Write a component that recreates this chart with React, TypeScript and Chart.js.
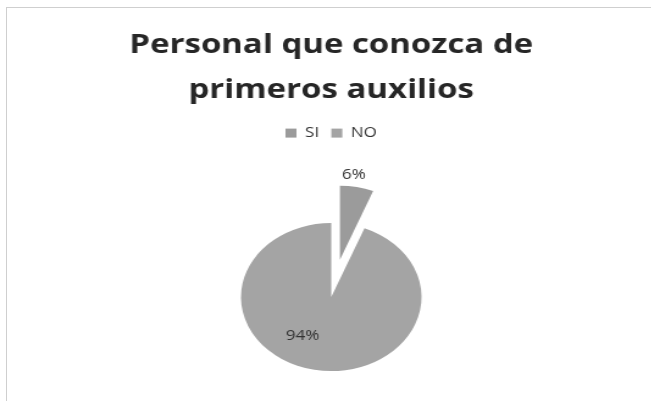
import React, { useEffect, useRef } from "react";
import { Chart, registerables } from "chart.js";

Chart.register(...registerables);

const TITLE_LINES = ["Personal que conozca de", "primeros auxilios"];
const CATEGORIES = ["SI", "NO"];
const PERCENTAGES = [6, 94];
const SLICE_COLORS = ["#9b9b9b", "#a4a4a4"];

// the scanned reference is stretched horizontally
const STRETCH_X = 1.22;
const CANVAS_W = 534;
const CANVAS_H = 444;
const EXPLODE = 38;
const EXPLODED_INDEX = 0;
const INSIDE_LABEL_ROTATE = (20 * Math.PI) / 180;

export default function App() {
  const ref = useRef<HTMLCanvasElement>(null);

  useEffect(() => {
    document.body.style.margin = "0";
    const canvas = ref.current;
    if (!canvas) return;

    const piePlugin = {
      id: "pieStyle",
      beforeDatasetsDraw(chart: any) {
        const { left, right, top, bottom } = chart.chartArea;
        const cx = (left + right) / 2;
        const cy = (top + bottom) / 2;
        const meta = chart.getDatasetMeta(0);
        meta.data.forEach((el: any, i: number) => {
          el.x = cx;
          el.y = cy;
          if (i === EXPLODED_INDEX) {
            const mid = (el.startAngle + el.endAngle) / 2;
            el.x = cx + Math.cos(mid) * EXPLODE;
            el.y = cy + Math.sin(mid) * EXPLODE;
          }
        });
      },
      afterDatasetsDraw(chart: any) {
        const ctx = chart.ctx;
        const meta = chart.getDatasetMeta(0);
        const values = chart.data.datasets[0].data as number[];
        ctx.save();
        ctx.fillStyle = "#333333";
        ctx.font = "14px 'Open Sans'";
        ctx.textAlign = "center";
        ctx.textBaseline = "middle";
        meta.data.forEach((el: any, i: number) => {
          const mid = (el.startAngle + el.endAngle) / 2;
          let x: number;
          let y: number;
          if (i === EXPLODED_INDEX) {
            const r = el.outerRadius + 11;
            const a = mid - (3 * Math.PI) / 180;
            x = el.x + Math.cos(a) * r;
            y = el.y + Math.sin(a) * r;
          } else {
            const a = mid + INSIDE_LABEL_ROTATE;
            const r = el.outerRadius * 0.62;
            x = el.x + Math.cos(a) * r;
            y = el.y + Math.sin(a) * r;
          }
          ctx.fillText(`${values[i]}%`, x, y);
        });
        ctx.restore();
      },
    };

    const chart = new Chart(canvas, {
      type: "pie",
      data: {
        labels: CATEGORIES,
        datasets: [
          {
            data: PERCENTAGES,
            backgroundColor: SLICE_COLORS,
            borderWidth: 0,
            radius: 74,
          },
        ],
      },
      options: {
        animation: false,
        responsive: false,
        maintainAspectRatio: false,
        devicePixelRatio: 1,
        layout: { padding: { top: 0, bottom: 0, left: 9, right: 0 } },
        plugins: {
          title: {
            display: true,
            text: TITLE_LINES,
            color: "#262626",
            font: { family: "'Open Sans'", size: 27, weight: "bold", lineHeight: 1.65 },
            padding: { top: 23, bottom: 4 },
          },
          legend: {
            display: true,
            position: "top",
            labels: {
              boxWidth: 9,
              boxHeight: 9,
              padding: 10,
              color: "#333333",
              font: { family: "'Open Sans'", size: 14 },
            },
          },
          tooltip: { enabled: false },
        },
      },
      plugins: [piePlugin],
    });
    return () => chart.destroy();
  }, []);

  return (
    <div style={{ position: "relative", width: 651, height: 401, overflow: "hidden", background: "#fff" }}>
      <div
        style={{
          position: "absolute",
          left: 6,
          top: 7,
          width: 660,
          height: 420,
          borderTop: "1px solid #cfcfcf",
          borderLeft: "1px solid #cfcfcf",
        }}
      />
      <canvas
        ref={ref}
        width={CANVAS_W}
        height={CANVAS_H}
        style={{
          position: "absolute",
          left: 0,
          top: 0,
          width: CANVAS_W,
          height: CANVAS_H,
          transform: `scaleX(${STRETCH_X})`,
          transformOrigin: "0 0",
        }}
      />
    </div>
  );
}
